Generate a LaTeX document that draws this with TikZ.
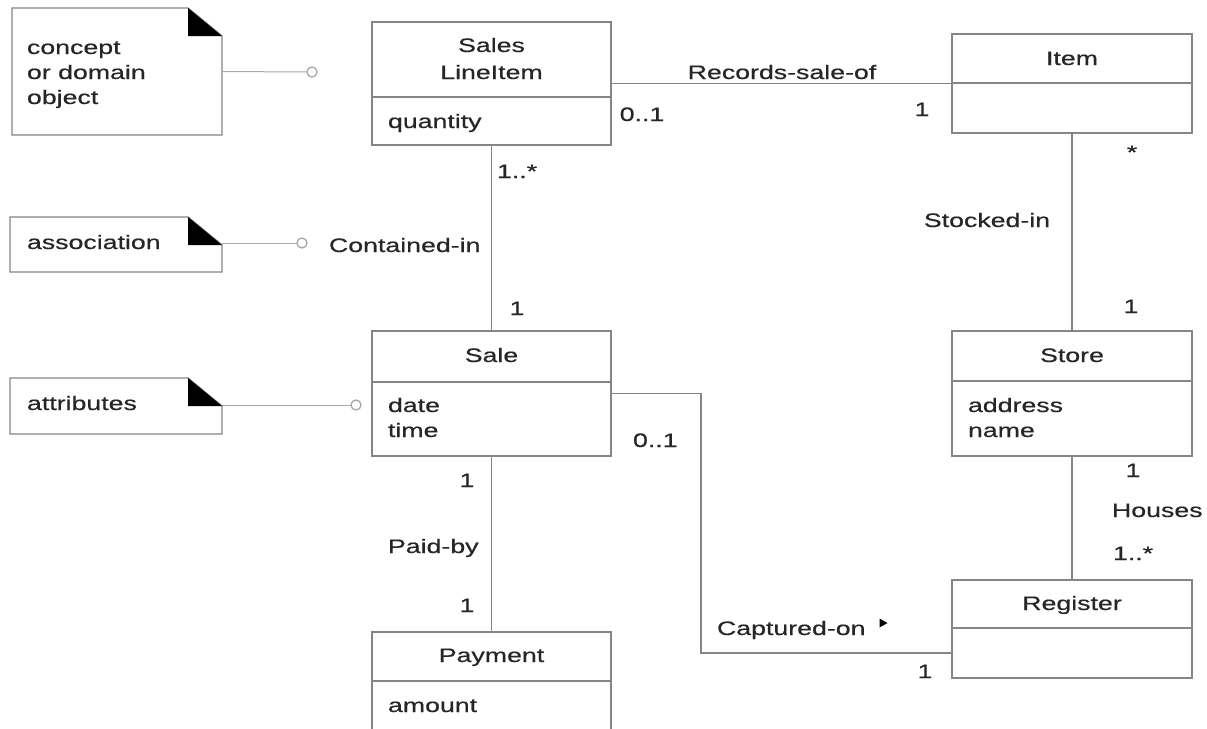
\documentclass[tikz,border=0pt]{standalone}
\usepackage{fontspec}
\setmainfont{Liberation Sans}[FakeStretch=1.37,FakeBold=0.5]
\definecolor{txt}{HTML}{262626}
\definecolor{edge}{HTML}{858585}
\definecolor{notegray}{HTML}{A8A8A8}
\begin{document}
\begin{tikzpicture}[x=1pt,y=-1pt,
  every node/.style={font=\fontsize{19.5}{26}\selectfont, text=txt, inner sep=0pt, outer sep=0pt},
  classbox/.style={draw=edge, line width=1.3pt, rectangle},
  conn/.style={draw=edge, line width=1.3pt},
  noteshape/.style={rectangle},
  noteedge/.style={draw=edge, line width=1.3pt},
  notelink/.style={draw=notegray, line width=1pt},
  hollow/.style={circle, draw=notegray, line width=1.3pt, fill=white, minimum size=10pt}]

\useasboundingbox (0,0) rectangle (1207,728);
\fill[white] (0,0) rectangle (1207,728);
\clip (0,0) rectangle (1207,728);

% ---------- class boxes ----------
\node[classbox, minimum width=239pt, minimum height=123pt] (sli) at (491.5,83.5) {};
\node[classbox, minimum width=240pt, minimum height=99pt] (item) at (1072,83.5) {};
\node[classbox, minimum width=239pt, minimum height=125pt] (sale) at (491.5,393.5) {};
\node[classbox, minimum width=240pt, minimum height=125pt] (store) at (1072,393.5) {};
\node[classbox, minimum width=239pt, minimum height=108pt] (payment) at (491.5,686) {};
\node[classbox, minimum width=240pt, minimum height=98pt] (register) at (1072,629) {};

% compartment dividers
\draw[conn] (sli.west |- 0,97) -- (sli.east |- 0,97);
\draw[conn] (item.west |- 0,83) -- (item.east |- 0,83);
\draw[conn] (sale.west |- 0,382) -- (sale.east |- 0,382);
\draw[conn] (store.west |- 0,381) -- (store.east |- 0,381);
\draw[conn] (payment.west |- 0,681) -- (payment.east |- 0,681);
\draw[conn] (register.west |- 0,628) -- (register.east |- 0,628);

% class names and attributes
\node[anchor=base] (n-sales) at (491.5,52) {Sales};
\node[anchor=base] (n-lineitem) at (491.5,79) {LineItem};
\node[anchor=base west] (a-quantity) at (388,128) {quantity};
\node[anchor=base] (n-item) at (1072,65) {Item};
\node[anchor=base] (n-sale) at (491.5,362) {Sale};
\node[anchor=base west] (a-date) at (388,412) {date};
\node[anchor=base west] (a-time) at (388,437) {time};
\node[anchor=base] (n-store) at (1072,362) {Store};
\node[anchor=base west] (a-address) at (968,412) {address};
\node[anchor=base west] (a-name) at (968,437) {name};
\node[anchor=base] (n-payment) at (491.5,662) {Payment};
\node[anchor=base west] (a-amount) at (388,712) {amount};
\node[anchor=base] (n-register) at (1072,610) {Register};

% ---------- associations ----------
\draw[conn] (sli.east) -- (item.west);
\draw[conn] (sli.south) -- (sale.north);
\draw[conn] (item.south) -- (store.north);
\draw[conn] (store.south) -- (register.north);
\draw[conn] (sale.south) -- (payment.north);
\coordinate (capbend) at (701,653);
\draw[conn] (sale.east) -| (capbend) -- (capbend -| register.west);

% association names
\node[anchor=base] (l-records) at (782,79) {Records-sale-of};
\node[anchor=base west] (l-contained) at (329,252) {Contained-in};
\node[anchor=base] (l-stocked) at (987,227) {Stocked-in};
\node[anchor=base west] (l-houses) at (1112,517) {Houses};
\node[anchor=base west] (l-paid) at (388,553) {Paid-by};
\node[anchor=base west] (l-captured) at (717,635) {Captured-on};
\fill[black] (879.5,618.5) -- (887.5,623) -- (879.5,627.5) -- cycle;

% multiplicities
\node[anchor=base] (m-sli-rec) at (642,121) {0..1};
\node[anchor=base] (m-item-rec) at (922,116) {1};
\node[anchor=base] (m-item-st) at (1132,159) {*};
\node[anchor=base] (m-store-st) at (1131,313) {1};
\node[anchor=base west] (m-sli-con) at (497,178) {1..*};
\node[anchor=base] (m-sale-con) at (517,315) {1};
\node[anchor=base] (m-store-h) at (1133,477) {1};
\node[anchor=base west] (m-reg-h) at (1113,560) {1..*};
\node[anchor=base west] (m-sale-cap) at (633,447) {0..1};
\node[anchor=base] (m-reg-cap) at (925,678) {1};
\node[anchor=base] (m-sale-paid) at (467,487) {1};
\node[anchor=base] (m-pay-paid) at (467,612) {1};

% ---------- explanatory notes ----------
\node[noteshape, minimum width=210pt, minimum height=127pt] (ncon) at (117,71.5) {};
\node[noteshape, minimum width=212pt, minimum height=55pt] (nassoc) at (116,244.5) {};
\node[noteshape, minimum width=212pt, minimum height=56pt] (nattr) at (116,406) {};

\foreach \n in {ncon,nassoc,nattr}{
  \draw[noteedge] (\n.south west) -- (\n.north west) -- ([xshift=-34pt]\n.north east)
    -- ([yshift=-28pt]\n.north east) -- (\n.south east) -- cycle;
  \fill[black] ([xshift=-34pt]\n.north east) -- ([xshift=-34pt,yshift=-28pt]\n.north east)
    -- ([yshift=-28pt]\n.north east) -- cycle;
}

\node[anchor=base west] (t-concept) at (27,54) {concept};
\node[anchor=base west] (t-domain) at (27,79) {or domain};
\node[anchor=base west] (t-object) at (27,104) {object};
\node[anchor=base west] (t-assoc) at (27,249) {association};
\node[anchor=base west] (t-attr) at (27,410) {attributes};

\node[hollow] (c-con) at (312,72) {};
\node[hollow] (c-assoc) at (302,243) {};
\node[hollow] (c-attr) at (356,405) {};
\draw[notelink] (ncon.east) -- (c-con.west);
\draw[notelink] (nassoc.east |- c-assoc) -- (c-assoc.west);
\draw[notelink] (nattr.east |- c-attr) -- (c-attr.west);
\end{tikzpicture}
\end{document}
